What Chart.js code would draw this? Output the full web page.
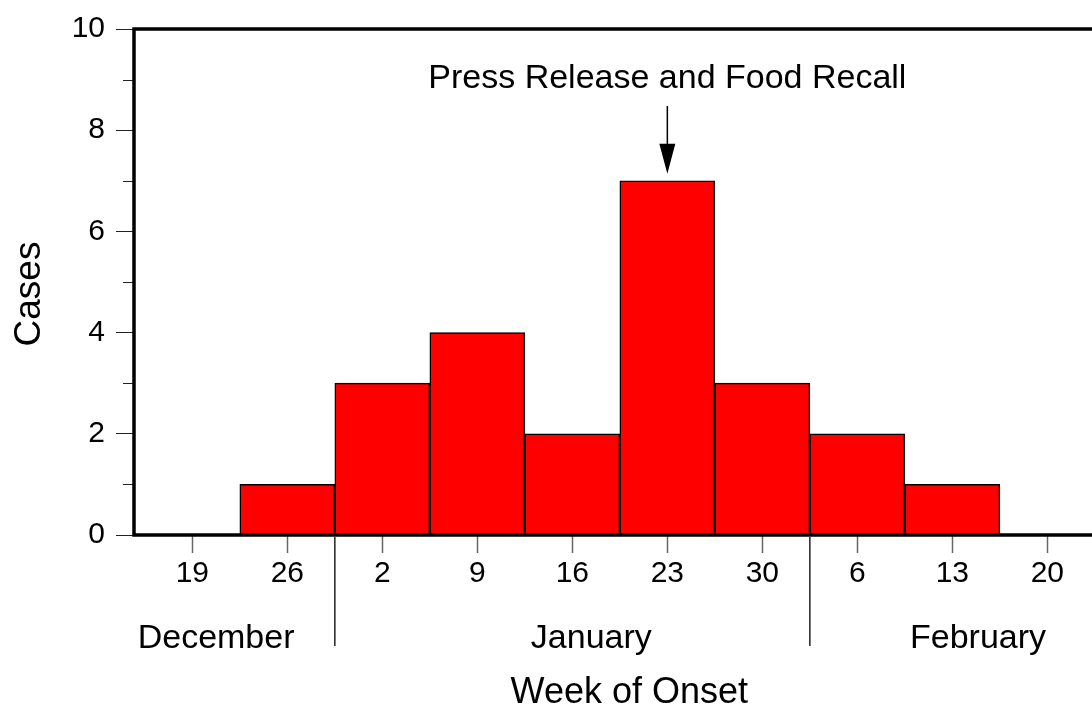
<!DOCTYPE html>
<html>
<head>
<meta charset="utf-8">
<script src="https://cdn.jsdelivr.net/npm/chart.js@4/dist/chart.umd.min.js"></script>
<style>
  html, body { margin: 0; padding: 0; background: #fff; }
  #wrap { width: 1092px; height: 707px; }
</style>
</head>
<body>
<div id="wrap"><canvas id="c"></canvas></div>
<script>
// semanas de início (dias do mês) e casos por semana
const weekLabels = ['19', '26', '2', '9', '16', '23', '30', '6', '13', '20'];
const cases = [0, 1, 3, 4, 2, 7, 3, 2, 1, 0];
const months = ['December', 'January', 'February'];
const monthStart = [0, 2, 7];          // índice da primeira semana de cada mês
const yTicks = [0, 2, 4, 6, 8, 10];
const annotationText = 'Press Release and Food Recall';
const annotationWeek = 5;

const fontFamily = '"Liberation Sans", Arial, Helvetica, sans-serif';

// desenha moldura, meses, títulos e a seta da anotação
const decorPlugin = {
  id: 'decor',
  afterDatasetsDraw(chart, args, opts) {
    const { ctx, chartArea: a, scales: { x, y } } = chart;
    ctx.save();

    // ticks menores do eixo y
    ctx.strokeStyle = '#222';
    ctx.lineWidth = 1;
    for (let v = 1; v < 10; v += 2) {
      const py = Math.round(y.getPixelForValue(v)) + 0.5;
      ctx.beginPath();
      ctx.moveTo(a.left - 11, py);
      ctx.lineTo(a.left, py);
      ctx.stroke();
    }

    // moldura (esquerda, topo, base)
    ctx.strokeStyle = '#000';
    ctx.lineWidth = 3.5;
    ctx.beginPath();
    ctx.moveTo(a.right + 2, a.top);
    ctx.lineTo(a.left, a.top);
    ctx.lineTo(a.left, a.bottom);
    ctx.lineTo(a.right + 2, a.bottom);
    ctx.stroke();

    // separadores de mês
    ctx.strokeStyle = '#222';
    ctx.lineWidth = 1.5;
    monthStart.slice(1).forEach(s => {
      const px = x.getPixelForValue(s - 0.5);
      ctx.beginPath();
      ctx.moveTo(px, a.bottom + 2);
      ctx.lineTo(px, a.bottom + 111);
      ctx.stroke();
    });

    ctx.fillStyle = '#000';
    ctx.textAlign = 'center';
    ctx.textBaseline = 'alphabetic';

    // nomes dos meses
    ctx.font = '34px ' + fontFamily;
    months.forEach((m, i) => {
      ctx.fillText(m, x.getPixelForValue(opts.monthAt[i]), a.bottom + 113);
    });

    // título do eixo x
    ctx.font = '36px ' + fontFamily;
    ctx.fillText('Week of Onset', x.getPixelForValue(4.6), a.bottom + 168);

    // título do eixo y
    ctx.save();
    ctx.translate(40, (a.top + a.bottom) / 2 + 12);
    ctx.rotate(-Math.PI / 2);
    ctx.font = '37px ' + fontFamily;
    ctx.fillText('Cases', 0, 0);
    ctx.restore();

    // anotação + seta
    const ax = x.getPixelForValue(annotationWeek);
    const barTop = y.getPixelForValue(cases[annotationWeek]);
    ctx.font = '34px ' + fontFamily;
    ctx.fillText(annotationText, ax, a.top + 59);

    const tip = barTop - 7;
    ctx.strokeStyle = '#000';
    ctx.lineWidth = 1.5;
    ctx.beginPath();
    ctx.moveTo(ax, a.top + 77);
    ctx.lineTo(ax, tip - 25);
    ctx.stroke();
    ctx.beginPath();
    ctx.moveTo(ax, tip);
    ctx.lineTo(ax - 8, tip - 30);
    ctx.lineTo(ax + 8, tip - 30);
    ctx.closePath();
    ctx.fill();

    ctx.restore();
  }
};

new Chart(document.getElementById('c'), {
  type: 'bar',
  data: {
    datasets: [{
      label: 'Cases',
      data: cases.map((v, i) => ({ x: i, y: v })),
      backgroundColor: '#ff0000',
      borderColor: '#000',
      borderWidth: 1.5,
      barPercentage: 1,
      categoryPercentage: 1
    }]
  },
  options: {
    responsive: true,
    maintainAspectRatio: false,
    animation: false,
    layout: { padding: { top: 27.5, left: 0, right: 0, bottom: 0 } },
    plugins: {
      legend: { display: false },
      tooltip: { enabled: false },
      decor: { monthAt: [0.25, 4.2, 8.27] }
    },
    scales: {
      x: {
        type: 'linear',
        min: -0.614,
        max: 9.47,
        offset: false,
        grid: {
          offset: false,
          drawOnChartArea: false,
          tickLength: 18,
          tickColor: '#666',
          tickWidth: 1.5
        },
        border: { display: false },
        afterBuildTicks: (scale) => {
          scale.ticks = weekLabels.map((_, i) => ({ value: i }));
        },
        afterFit: (scale) => { scale.height = 172; },
        ticks: {
          color: '#000',
          font: { family: fontFamily, size: 30 },
          padding: 3,
          maxRotation: 0,
          autoSkip: false,
          callback: (v) => weekLabels[v]
        }
      },
      y: {
        min: 0,
        max: 10,
        grid: {
          drawOnChartArea: false,
          tickLength: 18,
          tickColor: '#222',
          tickWidth: 1
        },
        border: { display: false },
        afterBuildTicks: (scale) => {
          scale.ticks = yTicks.map(v => ({ value: v }));
        },
        afterFit: (scale) => { scale.width = 134; },
        ticks: {
          color: '#000',
          font: { family: fontFamily, size: 30 },
          padding: 11
        }
      }
    }
  },
  plugins: [decorPlugin]
});
</script>
</body>
</html>
